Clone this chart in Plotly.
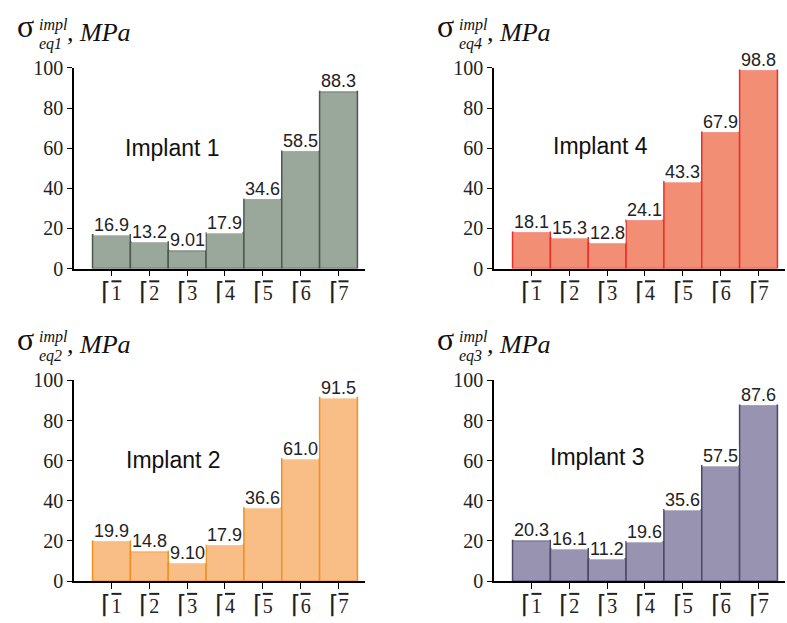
import plotly.graph_objects as go

W, H = 787, 623

categories = [1, 2, 3, 4, 5, 6, 7]
tick_digits = ["1", "2", "3", "4", "5", "6", "7"]

implant1 = [16.9, 13.2, 9.01, 17.9, 34.6, 58.5, 88.3]
implant4 = [18.1, 15.3, 12.8, 24.1, 43.3, 67.9, 98.8]
implant2 = [19.9, 14.8, 9.10, 17.9, 36.6, 61.0, 91.5]
implant3 = [20.3, 16.1, 11.2, 19.6, 35.6, 57.5, 87.6]

labels1 = ["16.9", "13.2", "9.01", "17.9", "34.6", "58.5", "88.3"]
labels4 = ["18.1", "15.3", "12.8", "24.1", "43.3", "67.9", "98.8"]
labels2 = ["19.9", "14.8", "9.10", "17.9", "36.6", "61.0", "91.5"]
labels3 = ["20.3", "16.1", "11.2", "19.6", "35.6", "57.5", "87.6"]

tick_labels = ["<span style='font-size:25px'>⌈</span><span style='text-decoration:overline'>"
               + d + "</span>" for d in tick_digits]

panels = [
    ("Implant 1", implant1, labels1, "eq1", "#9aa89b", "#4d574e", 74, 59, 267, (172, 142)),
    ("Implant 4", implant4, labels4, "eq4", "#f28e73", "#e8302a", 494, 59, 267, (600, 140)),
    ("Implant 2", implant2, labels2, "eq2", "#f9bd86", "#f2901f", 74, 383, 591, (173, 465)),
    ("Implant 3", implant3, labels3, "eq3", "#9893b0", "#4b4768", 494, 383, 591, (597, 462)),
]

PANEL_W = 291
XR = [0.01, 7.7]

def px(x):
    return x / W

def py(y):
    return 1 - y / H

fig = go.Figure()
annotations = []
layout = dict(
    width=W, height=H, margin=dict(l=0, r=0, t=0, b=0),
    paper_bgcolor="white", plot_bgcolor="white", showlegend=False,
)
serif = "Liberation Serif, Times New Roman, serif"
sans = "Liberation Sans, Arial, sans-serif"

for i, (name, vals, labs, sub, fill, edge, x0, yt, yb, lp) in enumerate(panels):
    k = "" if i == 0 else str(i + 1)
    xa, ya = "x" + k, "y" + k
    fig.add_trace(go.Bar(
        x=categories, y=vals, width=1.0, xaxis=xa, yaxis=ya,
        marker=dict(color=fill, line=dict(color=edge, width=1.5)),
        hoverinfo="skip",
    ))
    layout["xaxis" + k] = dict(
        domain=[px(x0), px(x0 + PANEL_W)], anchor=ya, range=XR,
        tickmode="array", tickvals=categories, ticktext=tick_labels,
        ticks="outside", ticklen=6, tickwidth=1.3, tickcolor="black",
        showline=True, linecolor="black", linewidth=1.5,
        showgrid=False, zeroline=False, fixedrange=True,
        tickfont=dict(family=serif, size=20, color="#222"),
    )
    layout["yaxis" + k] = dict(
        domain=[py(yb), py(yt)], anchor=xa, range=[0, 100],
        tickmode="array", tickvals=[0, 20, 40, 60, 80, 100],
        ticks="outside", ticklen=5, tickwidth=1.3, tickcolor="black",
        showline=True, linecolor="black", linewidth=1.5,
        showgrid=False, zeroline=False, fixedrange=True,
        tickfont=dict(family=serif, size=20, color="#222"),
    )
    for c, v, t in zip(categories, vals, labs):
        annotations.append(dict(
            x=c, y=v, xref=xa, yref=ya, text=t, showarrow=False,
            xanchor="center", yanchor="bottom", yshift=-1,
            bgcolor="white", borderpad=0,
            font=dict(family=sans, size=18, color="#222"),
        ))
    annotations.append(dict(
        x=px(lp[0]), y=py(lp[1]), xref="paper", yref="paper", text=name,
        showarrow=False, xanchor="center", yanchor="middle",
        font=dict(family=sans, size=23, color="#111"),
    ))
    dx = x0 - 74
    annotations.append(dict(
        x=px(25 + dx), y=py(yt - 43), xref="paper", yref="paper", text="σ",
        showarrow=False, xanchor="center", yanchor="middle",
        font=dict(family=serif, size=32, color="#111"),
    ))
    annotations.append(dict(
        x=px(37 + dx), y=py(yt - 45), xref="paper", yref="paper", text="<i>impl</i>",
        showarrow=False, xanchor="left", yanchor="middle",
        font=dict(family=serif, size=16, color="#111"),
    ))
    annotations.append(dict(
        x=px(37 + dx), y=py(yt - 25), xref="paper", yref="paper", text="<i>" + sub + "</i>",
        showarrow=False, xanchor="left", yanchor="middle",
        font=dict(family=serif, size=16, color="#111"),
    ))
    annotations.append(dict(
        x=px(65 + dx), y=py(yt - 37), xref="paper", yref="paper", text="<i>, MPa</i>",
        showarrow=False, xanchor="left", yanchor="middle",
        font=dict(family=serif, size=26, color="#111"),
    ))

layout["annotations"] = annotations
fig.update_layout(**layout)
fig.write_html("out.html")
